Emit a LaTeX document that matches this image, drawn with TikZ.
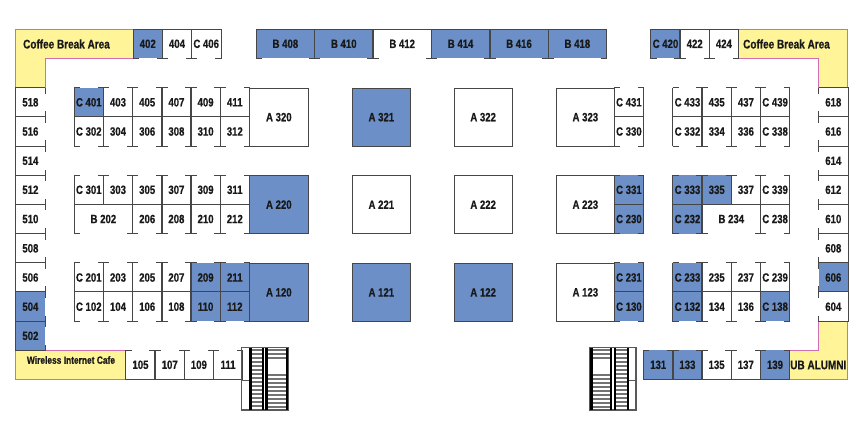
\documentclass[tikz,border=0pt]{standalone}
\usepackage{fontspec}
\usetikzlibrary{calc}
\newfontfamily\boothfont[FakeStretch=0.8,BoldFeatures={FakeBold=0.5}]{Liberation Sans}
\definecolor{soldblue}{RGB}{107,143,198}
\definecolor{loungeyellow}{RGB}{255,245,152}
\definecolor{loungepink}{RGB}{208,110,176}
\definecolor{wallgray}{RGB}{70,70,70}
\tikzset{
  booth/.style={anchor=north west,minimum width=29.2pt,minimum height=29.2pt,inner sep=0pt,
    font=\boothfont\bfseries\fontsize{12}{12}\selectfont,text=black!90},
  wide/.style={minimum width=58.4pt},
  big/.style={booth,minimum width=58.4pt,minimum height=58.4pt,draw=wallgray,line width=.9pt},
  wall/.style={draw=wallgray,line width=.9pt},
  lounge/.style={fill=loungeyellow,draw=loungepink,line width=.9pt},
  tread/.style={draw=black!55,line width=1.5pt},
  rail/.style={draw=black,line width=2.2pt},
  loungetext/.style={font=\boothfont\bfseries\fontsize{12.5}{12}\selectfont,inner sep=0pt,text=black!90}
}
% row name, anchors round the booth (first and last end the door side), y, booths
\newcommand{\boothrow}[4]{
  \foreach \x/\t/\c/\o [count=\i] in {#4}
    \node[booth,fill=\c,\o] (#1\i) at (\x,#3) {\t};
  \foreach \x/\t/\c/\o [count=\i] in {#4}
    \foreach \a/\b/\m/\d in #2 {
      \draw[wall] (#1\i.\a) -- (#1\i.\b) -- (#1\i.\m) -- (#1\i.\d);
      \draw[wall] (#1\i.\a) -- ($(#1\i.\a)!6pt!(#1\i.\d)$) (#1\i.\d) -- ($(#1\i.\d)!6pt!(#1\i.\a)$);
    }
}
\newcommand{\doorn}{north west/south west/south east/north east}
\newcommand{\doors}{south west/north west/north east/south east}
\newcommand{\doore}{north east/north west/south west/south east}
\newcommand{\doorw}{north west/north east/south east/south west}
\begin{document}
\begin{tikzpicture}[x=1pt,y=-1pt]
  \useasboundingbox (0,0) rectangle (864,432);
  % lounges
  \draw[lounge] (15,29) -- (133,29) -- (133,58) -- (45,58) -- (45,87.5) -- (15,87.5) -- cycle;
  \draw[lounge] (847.7,29) -- (738.3,29) -- (738.3,58) -- (818,58) -- (818,87.5) -- (847.7,87.5) -- cycle;
  \draw[lounge] (15,350) rectangle (125.7,379.5);
  \draw[lounge] (789.4,350) -- (818,350) -- (818,321) -- (847.7,321) -- (847.7,379.5) -- (789.4,379.5) -- cycle;
  \node[loungetext] (coffeeleft) at (66.5,44) {Coffee Break Area};
  \node[loungetext] (coffeeright) at (786.5,44) {Coffee Break Area};
  \node[loungetext,font=\boothfont\bfseries\fontsize{10.5}{12}\selectfont] (wireless) at (71,360) {Wireless Internet Cafe};
  \node[loungetext] (alumni) at (818.3,365) {UB ALUMNI};
  % top row
  \boothrow{topa}{\doors}{29}{133/402/soldblue/,162.2/404/white/,191.4/C 406/white/}
  \boothrow{topb}{\doors}{29}{256/B 408/soldblue/wide,314.4/B 410/soldblue/wide,372.8/B 412/white/wide,
    431.2/B 414/soldblue/wide,489.6/B 416/soldblue/wide,548/B 418/soldblue/wide}
  \boothrow{topc}{\doors}{29}{650.7/C 420/soldblue/,679.9/422/white/,709.1/424/white/}
  % side columns
  \foreach \yy/\lab/\col [count=\k] in {87.5/518/white,116.7/516/white,146/514/white,175/512/white,204.2/510/white,
    233.5/508/white,262.7/506/white,291.9/504/soldblue,321/502/soldblue}
    {\boothrow{left\k}{\doore}{\yy}{15.6/\lab/\col/}}
  \foreach \yy/\lab/\col [count=\k] in {87.5/618/white,116.7/616/white,146/614/white,175/612/white,204.2/610/white,
    233.5/608/white,262.7/606/soldblue,291.9/604/white}
    {\boothrow{right\k}{\doorw}{\yy}{818.5/\lab/\col/}}
  % left block
  \boothrow{la}{\doorn}{87.5}{74/C 401/soldblue/,103.2/403/white/,132.4/405/white/,161.6/407/white/,190.8/409/white/,220/411/white/}
  \boothrow{lb}{\doors}{116.7}{74/C 302/white/,103.2/304/white/,132.4/306/white/,161.6/308/white/,190.8/310/white/,220/312/white/}
  \boothrow{lc}{\doorn}{175}{74/C 301/white/,103.2/303/white/,132.4/305/white/,161.6/307/white/,190.8/309/white/,220/311/white/}
  \boothrow{ld}{\doors}{204.2}{74/B 202/white/wide,132.4/206/white/,161.6/208/white/,190.8/210/white/,220/212/white/}
  \boothrow{le}{\doorn}{262.7}{74/C 201/white/,103.2/203/white/,132.4/205/white/,161.6/207/white/,190.8/209/soldblue/,220/211/soldblue/}
  \boothrow{lf}{\doors}{291.9}{74/C 102/white/,103.2/104/white/,132.4/106/white/,161.6/108/white/,190.8/110/soldblue/,220/112/soldblue/}
  % big booths
  \foreach \x/\y/\t/\c [count=\i] in {249.2/87.5/A 320/white,351.7/87.5/A 321/soldblue,453.5/87.5/A 322/white,555.7/87.5/A 323/white,
    249.2/175/A 220/soldblue,351.7/175/A 221/white,453.5/175/A 222/white,555.7/175/A 223/white,
    249.2/262.7/A 120/soldblue,351.7/262.7/A 121/soldblue,453.5/262.7/A 122/soldblue,555.7/262.7/A 123/white}
    \node[big,fill=\c] (big\i) at (\x,\y) {\t};
  % column beside the A 3 row
  \boothrow{ma}{\doorn}{87.5}{614.1/C 431/white/}
  \boothrow{mb}{\doors}{116.7}{614.1/C 330/white/}
  \boothrow{mc}{\doorn}{175}{614.1/C 331/soldblue/}
  \boothrow{md}{\doors}{204.2}{614.1/C 230/soldblue/}
  \boothrow{me}{\doorn}{262.7}{614.1/C 231/soldblue/}
  \boothrow{mf}{\doors}{291.9}{614.1/C 130/soldblue/}
  % right block
  \boothrow{ra}{\doorn}{87.5}{672.7/C 433/white/,701.9/435/white/,731.1/437/white/,760.3/C 439/white/}
  \boothrow{rb}{\doors}{116.7}{672.7/C 332/white/,701.9/334/white/,731.1/336/white/,760.3/C 338/white/}
  \boothrow{rc}{\doorn}{175}{672.7/C 333/soldblue/,701.9/335/soldblue/,731.1/337/white/,760.3/C 339/white/}
  \boothrow{rd}{\doors}{204.2}{672.7/C 232/soldblue/,701.9/B 234/white/wide,760.3/C 238/white/}
  \boothrow{re}{\doorn}{262.7}{672.7/C 233/soldblue/,701.9/235/white/,731.1/237/white/,760.3/C 239/white/}
  \boothrow{rf}{\doors}{291.9}{672.7/C 132/soldblue/,701.9/134/white/,731.1/136/white/,760.3/C 138/soldblue/}
  % bottom row
  \boothrow{bota}{\doorn}{350}{125.7/105/white/,154.9/107/white/,184.1/109/white/,213.3/111/white/}
  \boothrow{botb}{\doorn}{350}{643.4/131/soldblue/,672.6/133/soldblue/,701.8/135/white/,731/137/white/,760.2/139/soldblue/}
  % stairs
  \foreach \y in {350,354,...,406} {
    \draw[tread] (251,\y) -- (263,\y);
    \draw[tread] (615,\y) -- (628,\y);
  }
  \foreach \y in {350,354,358,375,379,...,407} {
    \draw[tread] (267,\y) -- (287,\y);
    \draw[tread] (592,\y) -- (611,\y);
  }
  \draw[wall,line width=1.2pt,draw=black!65] (241.5,347.5) rectangle (288.3,410) (241.5,380.3) -- (250,380.3);
  \draw[wall,line width=1.2pt,draw=black!65] (590,347.5) rectangle (636,410) (628,380.3) -- (636,380.3);
  \foreach \x in {250.5,262.7,266.5,286.8,591.5,611.3,614.7,628}
    \draw[rail] (\x,347.5) -- (\x,410);
\end{tikzpicture}
\end{document}
